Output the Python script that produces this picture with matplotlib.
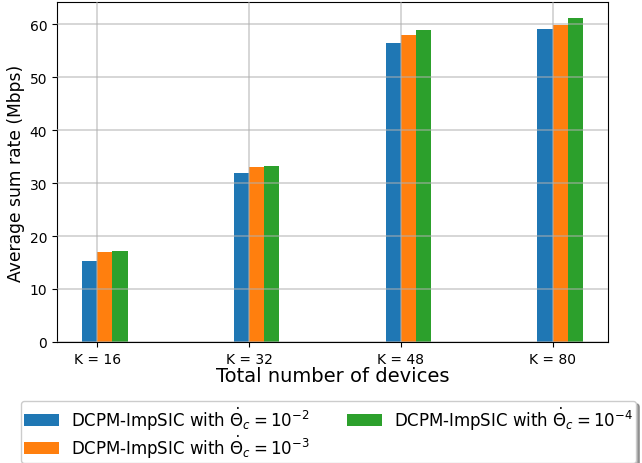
import matplotlib
matplotlib.use('Agg')
import matplotlib.pyplot as plt
import numpy as np

groups = ['K = 16', 'K = 32', 'K = 48', 'K = 80']
rate_1e2 = [15.2, 31.8, 56.4, 59.1]
rate_1e3 = [16.9, 33.0, 57.9, 59.8]
rate_1e4 = [17.1, 33.3, 58.8, 61.1]
labels = [r'DCPM-ImpSIC with $\dot{\Theta}_c = 10^{-2}$',
          r'DCPM-ImpSIC with $\dot{\Theta}_c = 10^{-3}$',
          r'DCPM-ImpSIC with $\dot{\Theta}_c = 10^{-4}$']

fig = plt.figure(figsize=(6.42, 4.64), dpi=100)
ax = fig.add_axes([0.0888, 0.2608, 0.8582, 0.7327])

x = np.arange(len(groups))
w = 0.1
b1 = ax.bar(x - w / 2, rate_1e2, w, color='tab:blue', label=labels[0])
b2 = ax.bar(x + w / 2, rate_1e3, w, color='tab:orange', label=labels[1])
b3 = ax.bar(x + 3 * w / 2, rate_1e4, w, color='tab:green', label=labels[2])

ax.set_xticks(x)
ax.set_xticklabels(groups, fontsize=10)
ax.tick_params(axis='y', labelsize=10)
ax.set_xlabel('Total number of devices', fontsize=14, labelpad=0)
ax.set_ylabel('Average sum rate (Mbps)', fontsize=12.3, labelpad=3)
ax.set_axisbelow(False)
ax.grid(True, color='#b0b0b0', alpha=0.6, linewidth=1.2)

fig.legend(handles=[b1, b2, b3], loc='upper left', bbox_to_anchor=(0.032, 0.1335),
           ncol=2, fontsize=12, shadow=True, handlelength=2.1,
           handletextpad=0.75, columnspacing=2.18, labelspacing=0.08,
           borderpad=0.2, borderaxespad=0)

fig.savefig('out.png', dpi=100)
